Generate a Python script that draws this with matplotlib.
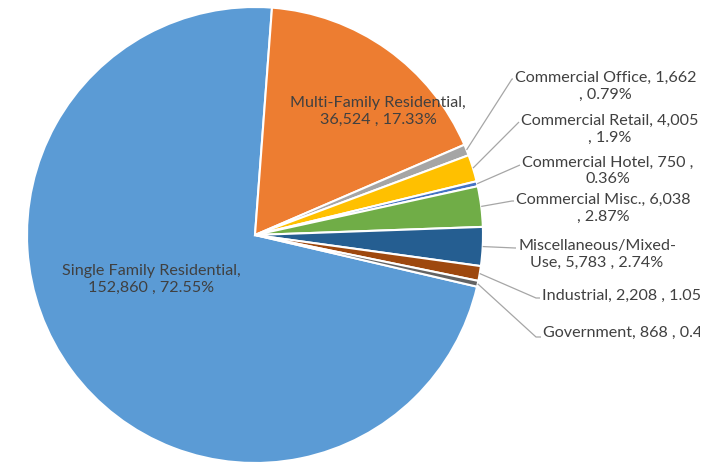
import numpy as np
import matplotlib.pyplot as plt

# Land use categories (Excel-style pie, clockwise)
categories = ['Single Family Residential', 'Multi-Family Residential', 'Commercial Office',
              'Commercial Retail', 'Commercial Hotel', 'Commercial Misc.',
              'Miscellaneous/Mixed-Use', 'Industrial', 'Government']
values = [152860, 36524, 1662, 4005, 750, 6038, 5783, 2208, 868]
percents = ['72.55%', '17.33%', '0.79%', '1.9%', '0.36%', '2.87%', '2.74%', '1.05%', '0.41%']
label_text = [
    'Single Family Residential,\n152,860 , 72.55%',
    'Multi-Family Residential,\n36,524 , 17.33%',
    'Commercial Office, 1,662\n, 0.79%',
    'Commercial Retail, 4,005\n, 1.9%',
    'Commercial Hotel, 750 ,\n0.36%',
    'Commercial Misc., 6,038\n, 2.87%',
    'Miscellaneous/Mixed-\nUse, 5,783 , 2.74%',
    'Industrial, 2,208 , 1.05%',
    'Government, 868 , 0.41%',
]
colors = ['#5B9BD5', '#ED7D31', '#A5A5A5', '#FFC000', '#4472C4',
          '#70AD47', '#255E91', '#9E480E', '#636363']

plt.rcParams['font.family'] = ['Lato', 'DejaVu Sans']
txt_color = '#404040'
fs = 11.6

W, H = 720, 462
fig = plt.figure(figsize=(W / 100, H / 100), dpi=100)
ax = fig.add_axes([0, 0, 700 / W, 1])

cx, cy, r = 255, H - 235, 228
wedges, _ = ax.pie(values, colors=colors, startangle=-13.1, counterclock=False,
                   center=(cx, cy), radius=r,
                   wedgeprops=dict(edgecolor='white', linewidth=1.5))
ax.set_xlim(0, 700)
ax.set_ylim(0, H)
ax.set_aspect('equal')
ax.axis('off')

# inside labels (pixel positions, y from top)
inside_pos = {0: (151, 279), 1: (378, 111)}
for i, (px, py) in inside_pos.items():
    ax.text(px, H - py, label_text[i], ha='center', va='center', fontsize=fs,
            color=txt_color, linespacing=1.27)

# outside labels: (elbow x, elbow y, text left x, text center y) in pixels
outside = {
    2: (512, 79, 515, 86),
    3: (519, 122, 521, 129),
    4: (520, 165, 522, 171),
    5: (512, 201, 516, 208),
    6: (515, 248, 518, 254),
    7: (536, 298, 542, 296),
    8: (536, 337, 543, 333),
}
for i, (ex, ey, tx, ty) in outside.items():
    w = wedges[i]
    mid = np.deg2rad((w.theta1 + w.theta2) / 2)
    sx, sy = cx + r * np.cos(mid), cy + r * np.sin(mid)
    ax.plot([sx, ex, tx - 2], [sy, H - ey, H - ey], color='#A6A6A6', lw=0.9,
            solid_capstyle='butt')
    ax.text(tx, H - ty, label_text[i], ha='left', va='center', multialignment='center',
            fontsize=fs, color=txt_color, linespacing=1.27, clip_on=True)

fig.savefig('out.png', dpi=100)
